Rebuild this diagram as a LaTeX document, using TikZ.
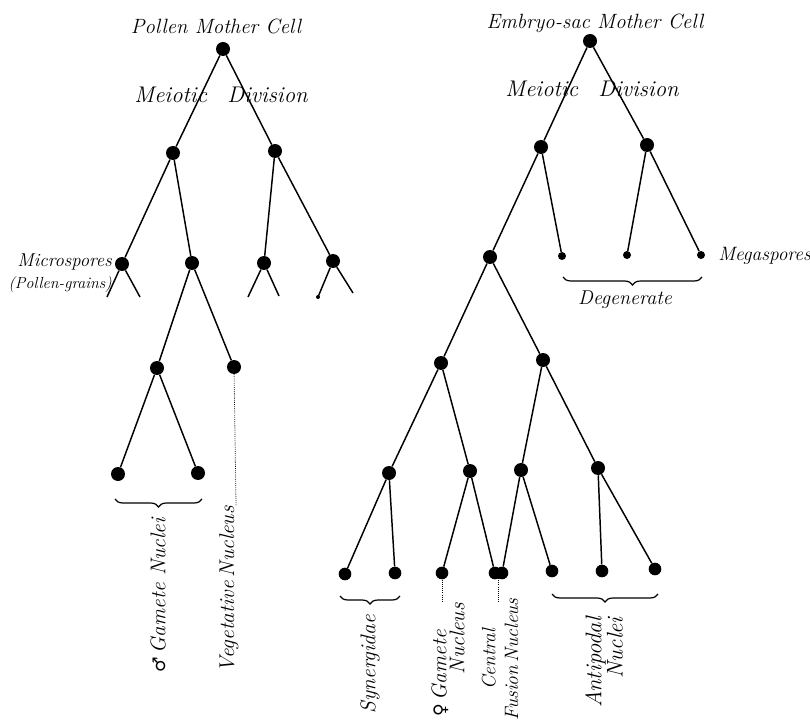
\documentclass[tikz,border=0pt]{standalone}
\usepackage{fontspec}
\newfontfamily\symfnt{DejaVu Sans}
\usetikzlibrary{decorations.pathreplacing}
\begin{document}
\begin{tikzpicture}[x=0.75pt,y=-0.75pt,
  cell/.style={circle,fill=black,inner sep=0pt,minimum size=10.5pt},
  cellb/.style={circle,fill=black,inner sep=0pt,minimum size=9.5pt},
  small/.style={circle,fill=black,inner sep=0pt,minimum size=6pt},
  edge/.style={line width=1.1pt},
  lab/.style={font=\fontsize{14}{17}\selectfont\itshape,inner sep=0pt},
  title/.style={font=\fontsize{15.5}{18}\selectfont\itshape,inner sep=0pt},
  meio/.style={font=\fontsize{17}{20}\selectfont\itshape,inner sep=0pt},
  vlab/.style={font=\fontsize{16}{17}\selectfont\itshape,inner sep=0pt,rotate=90,anchor=east},
  dots/.style={densely dotted,line width=0.6pt},
  brc/.style={decorate,decoration={brace,mirror,amplitude=6pt},line width=0.9pt}]
\useasboundingbox (0,0) rectangle (810,720);

% ---------- Pollen tree ----------
\node[title] (tpm) at (216,26) {Pollen Mother Cell};
\node[cell] (A) at (223,49) {};
\node[meio] (md1) at (221,95) {Meiotic\hspace{0.9em}Division};
\node[cell] (B1) at (173,153) {};
\node[cell] (B2) at (275,151) {};
\node[cell] (C1) at (122,264) {};
\node[cell] (C2) at (192,263) {};
\node[cell] (C3) at (264,263) {};
\node[cell] (C4) at (333,261) {};
\coordinate (s11) at (107,297);
\coordinate (s12) at (140,297);
\coordinate (s31) at (248,297);
\coordinate (s32) at (279,296);
\coordinate (s41) at (318,297);
\coordinate (s42) at (353,293);
\node[cell] (D1) at (157,368) {};
\node[cell] (D2) at (234,367) {};
\node[cell] (E1) at (118,474) {};
\node[cell] (E2) at (198,473) {};
\coordinate (veg) at (236,505);

\draw[edge] (A) -- (B1);
\draw[edge] (A) -- (B2);
\draw[edge] (B1) -- (C1);
\draw[edge] (B1) -- (C2);
\draw[edge] (B2) -- (C3);
\draw[edge] (B2) -- (C4);
\draw[edge] (C1) -- (s11);
\draw[edge] (C1) -- (s12);
\draw[edge] (C3) -- (s31);
\draw[edge] (C3) -- (s32);
\draw[edge] (C4) -- (s41);
\draw[edge] (C4) -- (s42);
\fill (s41) circle (1.5pt);
\draw[edge] (C2) -- (D1);
\draw[edge] (C2) -- (D2);
\draw[edge] (D1) -- (E1);
\draw[edge] (D1) -- (E2);
\draw[dots] (D2) -- (veg);

\node[lab,align=right,anchor=east] (micro) at (112,273) {Microspores\\{\fontsize{12}{15}\selectfont(Pollen-grains)}};
\draw[brc] (115,499) -- (202,499);
\node[vlab] (gam) at (158,518) {{\symfnt\fontsize{13}{14}\selectfont\upshape ♂}\,Gamete Nuclei};
\node[vlab] (vegl) at (229,506) {Vegetative\,Nucleus};

% ---------- Embryo-sac tree ----------
\node[title] (tem) at (595,23) {Embryo-sac Mother Cell};
\node[cell] (R) at (590,41) {};
\node[meio] (md2) at (592,89) {Meiotic\hspace{0.9em}Division};
\node[cell] (F1) at (541,147) {};
\node[cell] (F2) at (647,145) {};
\node[cell] (G1) at (490,257) {};
\node[small] (G2) at (562,256) {};
\node[small] (G3) at (627,255) {};
\node[small] (G4) at (701,255) {};
\node[cell] (H1) at (441,363) {};
\node[cell] (H2) at (543,360) {};
\node[cell] (I1) at (389,473) {};
\node[cell] (I2) at (470,471) {};
\node[cell] (I3) at (521,470) {};
\node[cell] (I4) at (598,468) {};
\node[cellb] (J1) at (345,574) {};
\node[cellb] (J2) at (395,573) {};
\node[cellb] (J3) at (442,573) {};
\node[cellb] (J4) at (495,573) {};
\node[cellb] (J5) at (502,573) {};
\node[cellb] (J6) at (552,571) {};
\node[cellb] (J7) at (602,571) {};
\node[cellb] (J8) at (655,569) {};
\coordinate (fg) at (442,603);
\coordinate (cf) at (498,603);

\draw[edge] (R) -- (F1);
\draw[edge] (R) -- (F2);
\draw[edge] (F1) -- (G1);
\draw[edge] (F1) -- (G2);
\draw[edge] (F2) -- (G3);
\draw[edge] (F2) -- (G4);
\draw[edge] (G1) -- (H1);
\draw[edge] (G1) -- (H2);
\draw[edge] (H1) -- (I1);
\draw[edge] (H1) -- (I2);
\draw[edge] (H2) -- (I3);
\draw[edge] (H2) -- (I4);
\draw[edge] (I1) -- (J1);
\draw[edge] (I1) -- (J2);
\draw[edge] (I2) -- (J3);
\draw[edge] (I2) -- (J4);
\draw[edge] (I3) -- (J5);
\draw[edge] (I3) -- (J6);
\draw[edge] (I4) -- (J7);
\draw[edge] (I4) -- (J8);
\draw[dots] (J3) -- (fg);
\draw[dots] (498,578) -- (cf);

\node[lab,anchor=west,font=\fontsize{14.5}{17}\selectfont\itshape] (mega) at (718,256) {Megaspores};
\draw[brc] (563,277) -- (702,277);
\node[lab,font=\fontsize{15}{17}\selectfont\itshape] (deg) at (625,300) {Degenerate};

\draw[brc] (340,596) -- (400,596);
\draw[brc] (552,594) -- (658,594);
\node[vlab] (syn) at (370,615) {Synergidae};
\node[vlab] (fgl1) at (440,630) {{\symfnt\fontsize{13}{14}\selectfont\upshape ♀}\,Gamete};
\node[vlab] (fgl2) at (457,603) {Nucleus};
\node[vlab,align=center,font=\fontsize{14.5}{17}\selectfont\itshape] (cfl) at (500,598) {Central\\Fusion\,Nucleus};
\node[vlab,align=right,font=\fontsize{17}{16}\selectfont\itshape] (antl) at (604,617) {Antipodal\\Nuclei};
\end{tikzpicture}
\end{document}
